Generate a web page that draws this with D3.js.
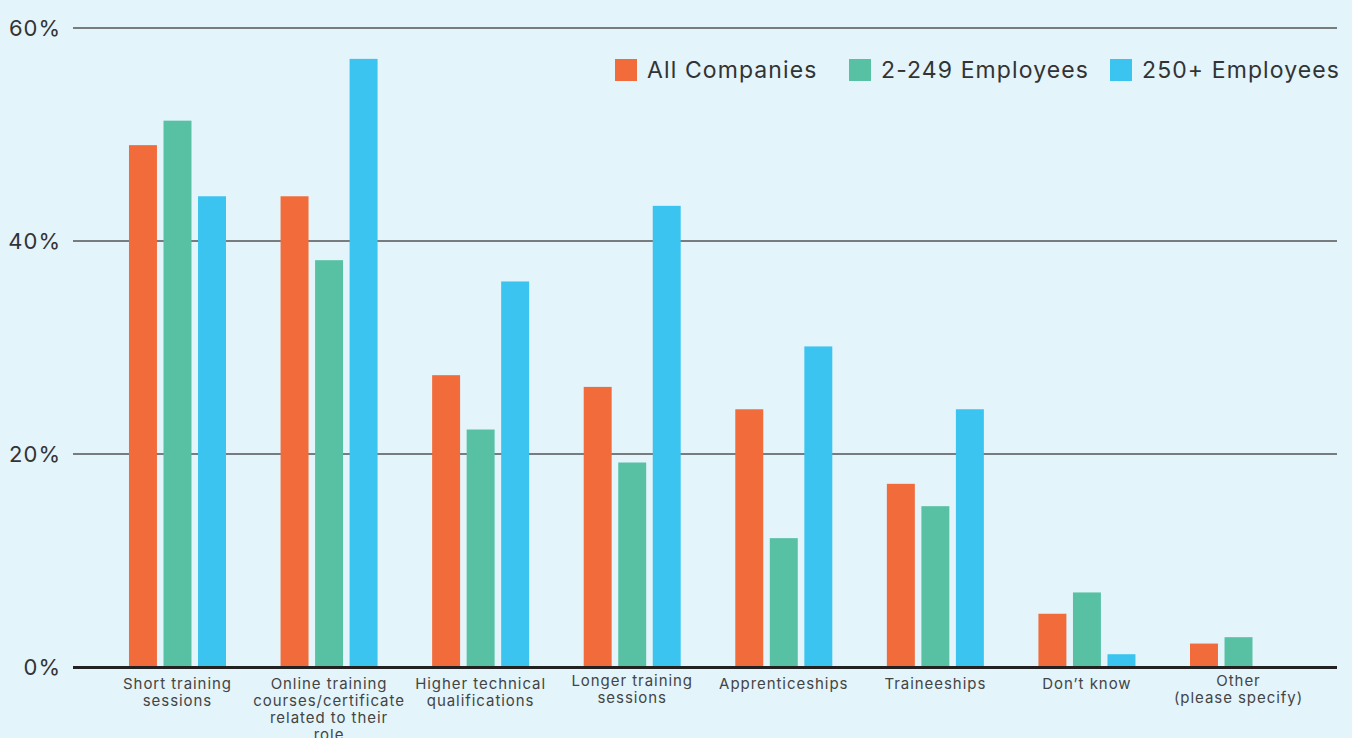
<!DOCTYPE html>
<html>
<head>
<meta charset="utf-8">
<script src="https://cdn.jsdelivr.net/npm/d3@7"></script>
<style>
  html, body { margin: 0; padding: 0; background: #e3f4fb; }
  svg { display: block; font-family: "Inter", "Noto Sans", sans-serif; }
</style>
</head>
<body>
<svg id="chart" width="1352" height="738"></svg>
<script>
// categories (label lines) and series
const categories = [
  ["Short training", "sessions"],
  ["Online training", "courses/certificate", "related to their", "role"],
  ["Higher technical", "qualifications"],
  ["Longer training", "sessions"],
  ["Apprenticeships"],
  ["Traineeships"],
  ["Don\u2019t know"],
  ["Other", "(please specify)"]
];
const seriesNames = ["All Companies", "2-249 Employees", "250+ Employees"];
const seriesColors = ["#f26b3a", "#58c1a4", "#3ac4ef"];

// values in %
const allCompanies = [49.0, 44.2, 27.4, 26.3, 24.2, 17.2, 5.0, 2.2];
const smallCompanies = [51.3, 38.2, 22.3, 19.2, 12.1, 15.1, 7.0, 2.8];
const largeCompanies = [44.2, 57.1, 36.2, 43.3, 30.1, 24.2, 1.2, 0];
const yTicks = [0, 20, 40, 60];

const series = [allCompanies, smallCompanies, largeCompanies];
const labelKeys = categories.map((c, i) => "c" + i);

const svg = d3.select("#chart");

const y = d3.scaleLinear().domain([0, 60]).range([667, 28]);
const x0 = d3.scaleBand().domain(labelKeys).range([101.7, 1314.3]);
const x1 = d3.scaleBand().domain(seriesNames).range([0, 97]).paddingInner(0.19);
const groupOffset = (x0.bandwidth() - 97) / 2;

// gridlines + y labels
const grid = svg.append("g");
grid.selectAll("line")
  .data(yTicks.filter(d => d > 0))
  .enter().append("line")
  .attr("x1", 73).attr("x2", 1337)
  .attr("y1", d => y(d)).attr("y2", d => y(d))
  .attr("stroke", "#555")
  .attr("stroke-width", 1.5);

grid.selectAll("text")
  .data(yTicks)
  .enter().append("text")
  .attr("x", 61)
  .attr("y", d => y(d) + 8)
  .attr("text-anchor", "end")
  .attr("fill", "#333")
  .style("font-size", "22px")
  .style("letter-spacing", "1px")
  .text(d => d + "%");

// bars
const groups = svg.append("g").selectAll("g")
  .data(labelKeys)
  .enter().append("g")
  .attr("transform", d => `translate(${x0(d) + groupOffset},0)`);

groups.selectAll("rect")
  .data((d, i) => seriesNames.map((s, j) => ({ s, j, v: series[j][i] })).filter(e => e.v > 0))
  .enter().append("rect")
  .attr("x", d => x1(d.s))
  .attr("width", x1.bandwidth())
  .attr("y", d => y(d.v))
  .attr("height", d => y(0) - y(d.v))
  .attr("fill", d => seriesColors[d.j]);

// baseline
svg.append("line")
  .attr("x1", 73).attr("x2", 1337)
  .attr("y1", y(0) + 0.5).attr("y2", y(0) + 0.5)
  .attr("stroke", "#222")
  .attr("stroke-width", 3);

// category labels
const catLabels = svg.append("g").selectAll("text")
  .data(categories)
  .enter().append("text")
  .attr("x", (d, i) => x0(labelKeys[i]) + x0.bandwidth() / 2)
  .attr("y", (d, i) => (i === 3 || i === 7) ? 686 : 689)
  .attr("text-anchor", "middle")
  .attr("fill", "#444")
  .style("font-size", "15px")
  .style("letter-spacing", "0.95px");

catLabels.selectAll("tspan")
  .data(d => d)
  .enter().append("tspan")
  .attr("x", function() { return this.parentNode.getAttribute("x"); })
  .attr("dy", (d, i) => i === 0 ? 0 : 17)
  .text(d => d);

// legend
const legendX = [615, 849, 1110];
const legend = svg.append("g").selectAll("g")
  .data(seriesNames)
  .enter().append("g")
  .attr("transform", (d, i) => `translate(${legendX[i]},59)`);

legend.append("rect")
  .attr("width", 22).attr("height", 22)
  .attr("fill", (d, i) => seriesColors[i]);

legend.append("text")
  .attr("x", 32)
  .attr("y", 19)
  .attr("fill", "#333")
  .style("font-size", "23px")
  .style("letter-spacing", "1.1px")
  .text(d => d);
</script>
</body>
</html>
